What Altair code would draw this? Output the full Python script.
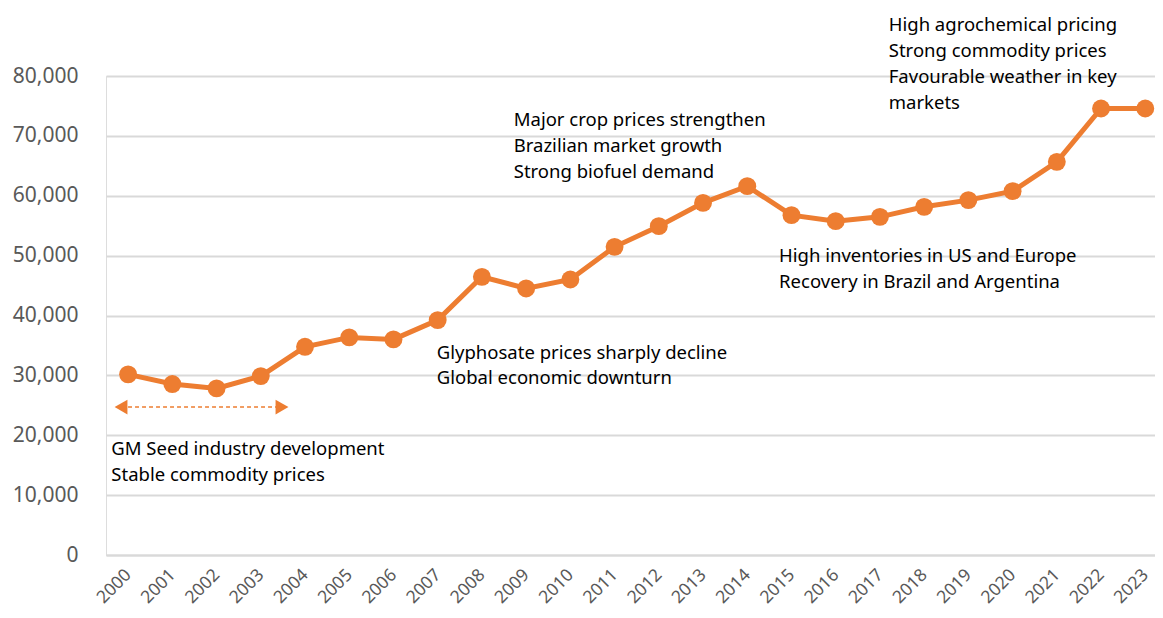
import altair as alt
import pandas as pd

years = list(range(2000, 2024))
values = [30170, 28550, 27830, 29880, 34770, 36340, 36010, 39230, 46460, 44520,
          46020, 51470, 54920, 58810, 61600, 56760, 55760, 56480, 58150, 59270,
          60770, 65660, 74570, 74570]

ann_text = [
    "GM Seed industry development", "Stable commodity prices",
    "Glyphosate prices sharply decline", "Global economic downturn",
    "Major crop prices strengthen", "Brazilian market growth", "Strong biofuel demand",
    "High inventories in US and Europe", "Recovery in Brazil and Argentina",
    "High agrochemical pricing", "Strong commodity prices", "Favourable weather in key", "markets",
]
ann_x = [1999.62, 1999.62, 2006.98, 2006.98, 2008.72, 2008.72, 2008.72,
         2014.72, 2014.72, 2017.2, 2017.2, 2017.2, 2017.2]
ann_y = [17700, 13360, 33720, 29550, 72620, 68280, 63940, 49920, 45580,
         88480, 84140, 79800, 75460]

arrow_start, arrow_end, arrow_level = 1999.84, 2003.48, 24710

ORANGE = "#ED7D31"
FONT = "Noto Sans"

df = pd.DataFrame({"year": years, "value": values})
ann = pd.DataFrame({"x": ann_x, "y": ann_y, "t": ann_text})
arr = pd.DataFrame({"x": [arrow_start], "x2": [arrow_end], "y": [arrow_level]})
tri = pd.DataFrame({"x": [arrow_start, arrow_end], "y": [arrow_level] * 2,
                    "shape": ["triangle-left", "triangle-right"]})

xscale = alt.Scale(domain=[1999.5, 2023.22], nice=False, zero=False)
yscale = alt.Scale(domain=[0, 80000], nice=False)

xaxis = alt.Axis(values=years, format="d", labelAngle=-45, labelAlign="right",
                 labelBaseline="middle", labelPadding=17, labelFontSize=17.5,
                 labelColor="#595959", labelFont=FONT, grid=False, domain=True,
                 domainColor="#d9d9d9", domainWidth=2, ticks=False, title=None,
                 labelOverlap=False)
yaxis = alt.Axis(values=list(range(0, 80001, 10000)), format=",.0f", labelFontSize=21,
                 labelColor="#595959", labelFont=FONT, labelPadding=28, grid=True,
                 gridColor="#d9d9d9", gridWidth=2, domain=False, ticks=False, title=None)

base = alt.Chart(df)
line = base.mark_line(color=ORANGE, strokeWidth=5).encode(
    x=alt.X("year:Q", scale=xscale, axis=xaxis),
    y=alt.Y("value:Q", scale=yscale, axis=yaxis),
)
pts = base.mark_point(filled=True, color=ORANGE, size=320, opacity=1, shape="circle").encode(
    x=alt.X("year:Q", scale=xscale),
    y=alt.Y("value:Q", scale=yscale),
)
text = alt.Chart(ann).mark_text(align="left", baseline="middle", fontSize=18.5,
                                font=FONT, color="#000000").encode(
    x=alt.X("x:Q", scale=xscale), y=alt.Y("y:Q", scale=yscale), text="t:N")
rule = alt.Chart(arr).mark_rule(color=ORANGE, strokeWidth=1.5, strokeDash=[4, 3]).encode(
    x=alt.X("x:Q", scale=xscale), x2="x2:Q", y=alt.Y("y:Q", scale=yscale))
heads = alt.Chart(tri).mark_point(filled=True, color=ORANGE, size=220, opacity=1).encode(
    x=alt.X("x:Q", scale=xscale), y=alt.Y("y:Q", scale=yscale),
    shape=alt.Shape("shape:N", scale=None, legend=None))

chart = alt.layer(line, pts, rule, heads, text).properties(
    width=1049, height=479,
    padding={"left": 98, "top": 68, "right": 0, "bottom": 54},
    autosize=alt.AutoSizeParams(type="none"),
).configure_view(stroke=None).configure(background="white")

chart.save("out.html", embed_options={"renderer": "svg", "actions": False})
